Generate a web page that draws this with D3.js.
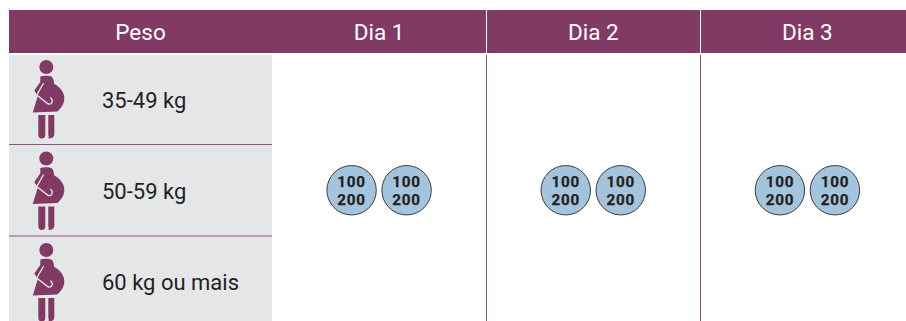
<!DOCTYPE html>
<html>
<head>
<meta charset="utf-8">
<script src="https://cdn.jsdelivr.net/npm/d3@7"></script>
<style>
  html, body { margin: 0; padding: 0; background: #fff; overflow: hidden; }
  svg { display: block; }
  text { font-family: Roboto, sans-serif; }
</style>
</head>
<body>
<div id="chart"></div>
<script>
'use strict'

const PESO_TITLE = 'Peso'
const DAYS = ['Dia 1', 'Dia 2', 'Dia 3']
const WEIGHTS = ['35-49 kg', '50-59 kg', '60 kg ou mais']
const TABLETS = [0, 1]
const DOSES = ['100', '200']

const WIDTH = 906
const HEIGHT = 321
const PURPLE = '#813a64'
const LINE = '#93507b'
const GREY = '#e5e6e8'
const BLUE = '#a3c4dc'
const INK = '#231f20'

const svg = d3.select('#chart').append('svg')
  .attr('width', WIDTH)
  .attr('height', HEIGHT)

const x = d3.scaleBand().domain(DAYS).range([272, 914.5])
const y = d3.scaleBand().domain(WEIGHTS).range([53, 327.5])
const tabletX = d3.scaleBand().domain(TABLETS).range([-55, 55])
const doseY = d3.scaleBand().domain(DOSES).range([-17.5, 18.5])

// header band
svg.append('rect')
  .attr('x', 9).attr('y', 10)
  .attr('width', WIDTH - 9).attr('height', 43)
  .attr('fill', PURPLE)

svg.append('text')
  .attr('x', 140.5).attr('y', 40)
  .attr('text-anchor', 'middle')
  .attr('fill', '#fff')
  .attr('font-size', 22.5)
  .text(PESO_TITLE)

svg.selectAll('.day')
  .data(DAYS)
  .join('text')
  .attr('class', 'day')
  .attr('x', d => x(d) + x.bandwidth() / 2)
  .attr('y', 40)
  .attr('text-anchor', 'middle')
  .attr('fill', '#fff')
  .attr('font-size', 22.5)
  .text(d => d)

// grey weight column
svg.append('rect')
  .attr('x', 9).attr('y', 55)
  .attr('width', 263).attr('height', HEIGHT - 55)
  .attr('fill', GREY)

svg.selectAll('.row-line')
  .data(WEIGHTS.slice(1))
  .join('line')
  .attr('class', 'row-line')
  .attr('x1', 9).attr('x2', 272)
  .attr('y1', d => y(d)).attr('y2', d => y(d))
  .attr('stroke', LINE)

// column separators, white inside the header
DAYS.slice(1).forEach(d => {
  const px = Math.floor(x(d)) + 0.5
  svg.append('line')
    .attr('x1', px).attr('x2', px).attr('y1', 10).attr('y2', 53)
    .attr('stroke', '#fff')
  svg.append('line')
    .attr('x1', px).attr('x2', px).attr('y1', 55).attr('y2', HEIGHT)
    .attr('stroke', LINE)
})

// rows: icon + label
const rows = svg.selectAll('.row')
  .data(WEIGHTS)
  .join('g')
  .attr('class', 'row')
  .attr('transform', d => 'translate(0,' + y(d) + ')')

rows.append('text')
  .attr('x', 102)
  .attr('y', (d, i) => 54.5 - i * 0.5)
  .attr('fill', INK)
  .attr('font-size', 22)
  .text(d => d)

const icon = rows.append('g').attr('transform', 'translate(46.3,14)')
icon.append('circle').attr('r', 7).attr('fill', PURPLE)
icon.append('path')
  .attr('fill', PURPLE)
  .attr('d', 'M-6,9.5 C-3,8.5 3,8.5 5,9.5 C7.5,11 7.5,15 8,17 C14,20 18.5,26 18,32 C17.5,38 14,42 11,44.5 L-13.5,45.5 L-8.5,29 L-12,23.5 L-6,15 Z')
icon.append('path')
  .attr('fill', 'none')
  .attr('stroke', '#eadfe6')
  .attr('stroke-width', 1.4)
  .attr('stroke-linecap', 'round')
  .attr('d', 'M-3,16.5 L-9.5,28 L2,37 C6,38 7,33 4.5,31')
icon.append('path')
  .attr('fill', PURPLE)
  .attr('d', 'M-8,48 L-1,48 L-1,67.5 Q-1,71.5 -4.5,71.5 Q-8,71.5 -8,67.5 Z')
icon.append('path')
  .attr('fill', PURPLE)
  .attr('d', 'M2,48 L8,48 L8,67 Q8,71.5 2,71.5 Q3,70 2,68 Z')

// tablets
const tabletY = y(WEIGHTS[1]) + y.bandwidth() / 2
const days = svg.selectAll('.dose-day')
  .data(DAYS)
  .join('g')
  .attr('class', 'dose-day')
  .attr('transform', d => 'translate(' + (x(d) + x.bandwidth() / 2) + ',' + tabletY + ')')

const tablets = days.selectAll('.tablet')
  .data(TABLETS)
  .join('g')
  .attr('class', 'tablet')
  .attr('transform', d => 'translate(' + (tabletX(d) + tabletX.bandwidth() / 2) + ',0)')

tablets.append('circle')
  .attr('r', 24.7)
  .attr('fill', BLUE)
  .attr('stroke', '#3c3c3e')
  .attr('stroke-width', 1)

tablets.selectAll('text')
  .data(DOSES)
  .join('text')
  .attr('y', d => doseY(d) + doseY.bandwidth() / 2 + 5.5)
  .attr('text-anchor', 'middle')
  .attr('fill', INK)
  .attr('stroke', INK)
  .attr('stroke-width', 0.25)
  .attr('font-size', 15.2)
  .attr('font-weight', 700)
  .attr('letter-spacing', 0.8)
  .text(d => d)
</script>
</body>
</html>
